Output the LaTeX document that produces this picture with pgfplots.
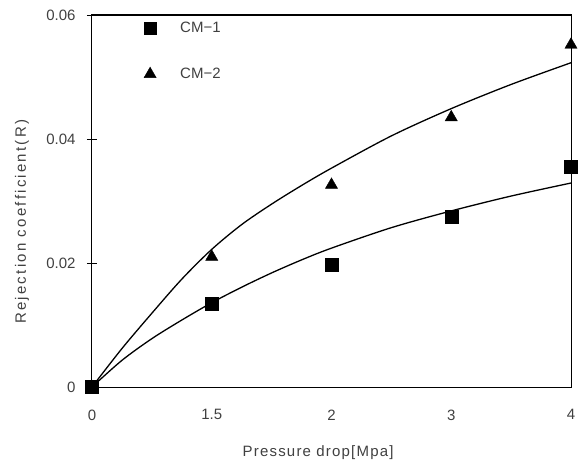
\documentclass[border=0pt]{standalone}
\usepackage{fontspec}
\setmainfont{Liberation Sans}
\usepackage{pgfplots}
\pgfplotsset{compat=1.18}
\definecolor{txt}{gray}{0.25}
\begin{document}
\begin{tikzpicture}
\begin{axis}[
  scale only axis, width=479pt, height=372pt,
  xmin=0, xmax=4, ymin=0, ymax=0.06,
  scaled y ticks=false,
  xtick={0,1,2,3,4}, xticklabels={0,1.5,2,3,4},
  ytick={0,0.02,0.04,0.06}, yticklabels={0,0.02,0.04,0.06},
  axis line style={line width=1pt},
  xtick style={draw=none},
  ytick style={line width=0.8pt, black},
  major tick length=10pt, tick align=center,
  tick pos=left,
  font=\fontsize{15}{18}\selectfont,
  every tick label/.append style={text=txt},
  yticklabel style={xshift=-8pt},
  xticklabel style={yshift=-14pt},
  every axis x label/.style={at={([yshift=-66pt]rel axis cs:0.472,0)},anchor=center,text=txt},
  every axis y label/.style={at={([xshift=-70pt]rel axis cs:0,0.444)},rotate=90,anchor=center,text=txt},
  xlabel={\addfontfeatures{LetterSpace=8}Pressure drop[Mpa]},
  ylabel={\addfontfeatures{LetterSpace=15}Rejection coefficient(R)},
  clip=false,
  legend style={draw=none, fill=none, at={(rel axis cs:0.102,0.992)}, anchor=north west,
    row sep=30pt, font=\fontsize{15}{18}\selectfont, text=txt},
  legend cell align=left,
]
\addlegendimage{only marks, mark=square*, mark size=6pt, black}
\addlegendentry{\hspace{22pt}CM\textminus1}
\addlegendimage{only marks, mark=triangle*, mark size=7pt, black}
\addlegendentry{\hspace{22pt}CM\textminus2}

% fitted curves
\addplot[black, line width=1.3pt, smooth, forget plot] coordinates {
 (0,0) (0.25,0.0062) (0.5,0.0119) (0.75,0.0174) (1,0.0222) (1.25,0.0262)
 (1.5,0.0295) (1.75,0.0325) (2,0.0353) (2.5,0.0405) (3,0.0449) (3.5,0.0488) (4,0.0523)};
\addplot[black, line width=1.3pt, smooth, forget plot] coordinates {
 (0,0) (0.25,0.0043) (0.5,0.0078) (0.75,0.0108) (1,0.0136) (1.25,0.0161)
 (1.5,0.0184) (1.75,0.0205) (2,0.0224) (2.5,0.0257) (3,0.0284) (3.5,0.0308) (4,0.0329)};

% measured
\addplot[only marks, mark=triangle*, mark size=7pt, black, forget plot] coordinates {
 (0,0) (1,0.0210) (2,0.0326) (3,0.0435) (4,0.0552)};
\addplot[only marks, mark=square*, mark size=6.5pt, black, forget plot] coordinates {
 (0,0) (1,0.0135) (2,0.0197) (3,0.0274) (4,0.0355)};
\end{axis}
\pgfresetboundingbox
\path[use as bounding box] ([xshift=-92pt,yshift=-79pt]current axis.south west) rectangle ([xshift=7pt,yshift=15pt]current axis.north east);
\end{tikzpicture}
\end{document}
